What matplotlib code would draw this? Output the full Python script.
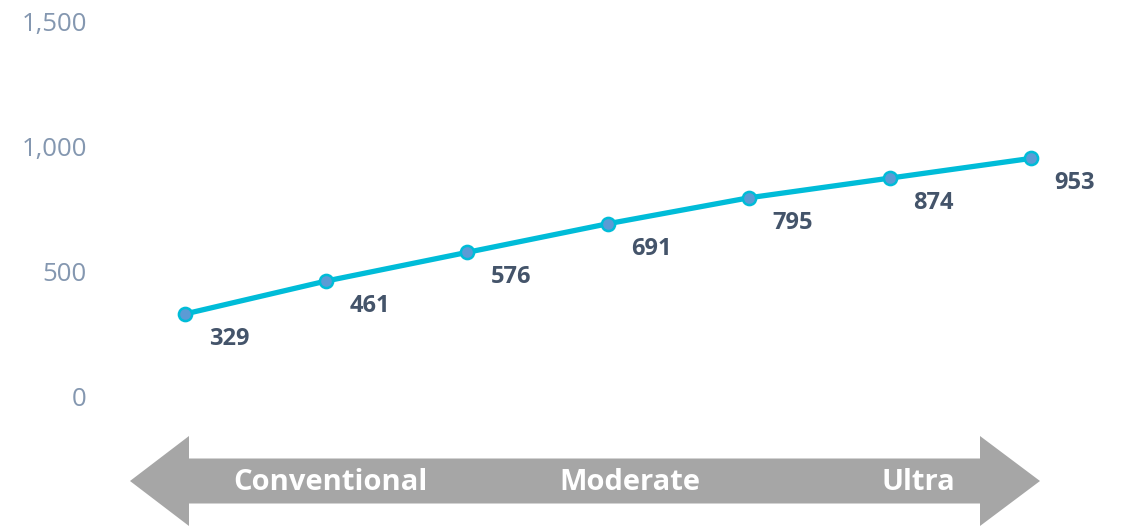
import matplotlib.pyplot as plt
from matplotlib.patches import Polygon
import numpy as np

values = [329, 461, 576, 691, 795, 874, 953]
yticks = [0, 500, 1000, 1500]
ytick_labels = ["0", "500", "1,000", "1,500"]
band_labels = ["Conventional", "Moderate", "Ultra"]

x = np.arange(len(values))

fig = plt.figure(figsize=(11.27, 5.26), dpi=100)
ax = fig.add_axes([100 / 1127, 0, 1 - 100 / 1127, 1])

# pixel mapping: index 0 at 185px, step 141px; value 0 at 396px, 1500 at 22px
step = 141.0
ax.set_xlim(-(185 - 100) / step, (1127 - 185) / step)
ppu = (396 - 22) / 1500.0
ax.set_ylim(-(526 - 396) / ppu, 396 / ppu)

ax.plot(x, values, color="#00bcd8", linewidth=3.8, marker="o", markersize=9.5,
        markerfacecolor="#5b9bd5", markeredgecolor="#00bcd8", markeredgewidth=1.8,
        solid_capstyle="round", zorder=3)

for xi, v in zip(x, values):
    ax.annotate(str(v), (xi, v), xytext=(17, -18), textcoords="offset points",
                ha="left", va="center", fontsize=17, fontweight="bold",
                color="#44546a", family="Open Sans")

ax.set_yticks(yticks)
ax.set_yticklabels(ytick_labels)
ax.set_xticks([])
ax.tick_params(axis="y", length=0, pad=9.5, labelsize=18.5, labelcolor="#8497b0")
for lab in ax.get_yticklabels():
    lab.set_family("Open Sans")
for s in ax.spines.values():
    s.set_visible(False)

# double-headed arrow below the plot
def px_x(p):
    return (p - 185) / step

def px_y(p):
    return (396 - p) / ppu

yc, body, head = 481, 22.5, 45
xl, xlb, xrb, xr = 130, 189, 980, 1040
pts = [(xl, yc), (xlb, yc - head), (xlb, yc - body), (xrb, yc - body), (xrb, yc - head),
       (xr, yc), (xrb, yc + head), (xrb, yc + body), (xlb, yc + body), (xlb, yc + head)]
arrow = Polygon([(px_x(a), px_y(b)) for a, b in pts], closed=True,
                facecolor="#a6a6a6", edgecolor="none", clip_on=False)
ax.add_patch(arrow)

for lab, cx in zip(band_labels, [330, 630, 918]):
    ax.text(px_x(cx), px_y(yc + 2), lab, ha="center", va="center", fontsize=21,
            fontweight="bold", color="white", family="Open Sans")

fig.savefig("out.png", dpi=100)
